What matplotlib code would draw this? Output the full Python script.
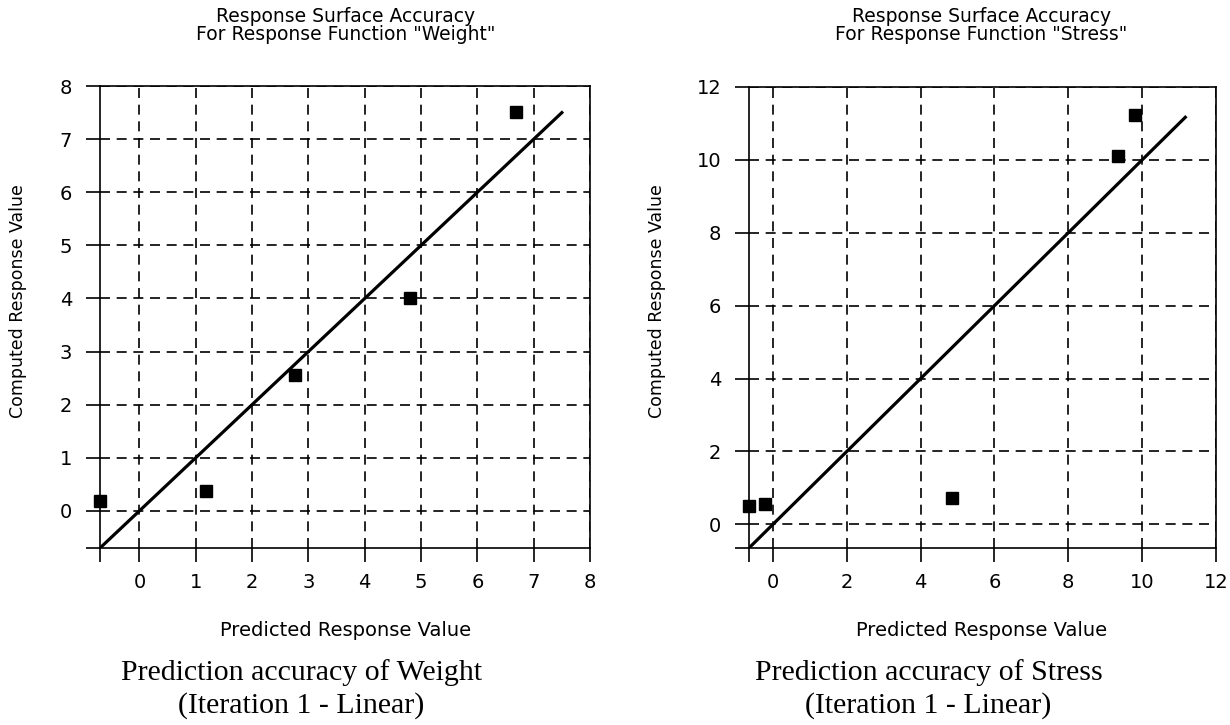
import matplotlib
matplotlib.use("Agg")
import matplotlib.pyplot as plt

# Weight response (iteration 1, linear)
weight_pred = [-0.7, 1.18, 2.77, 4.8, 6.68]
weight_comp = [0.19, 0.38, 2.55, 4.01, 7.52]
weight_line = [-0.7, 7.52]
weight_ticks = [0, 1, 2, 3, 4, 5, 6, 7, 8]

# Stress response (iteration 1, linear)
stress_pred = [-0.65, -0.22, 4.85, 9.35, 9.8]
stress_comp = [0.5, 0.56, 0.73, 10.1, 11.22]
stress_line = [-0.65, 11.2]
stress_ticks = [0, 2, 4, 6, 8, 10, 12]

sans = "DejaVu Sans"
serif = "Liberation Serif"

fig = plt.figure(figsize=(12.3, 7.25), dpi=100)
ax1 = fig.add_axes([0.0813, 0.2441, 0.3984, 0.6372])
ax2 = fig.add_axes([0.6089, 0.2441, 0.3797, 0.6359])


def draw(ax, px, cy, line, ticks, lo):
    ax.plot(line, line, color="black", lw=2.3, solid_capstyle="butt", zorder=3)
    ax.plot(px, cy, "s", color="black", ms=8.5, clip_on=False, zorder=4)
    ax.set_xlim(lo, ticks[-1])
    ax.set_ylim(lo, ticks[-1])
    ax.set_xticks(ticks)
    ax.set_yticks(ticks)
    # unlabelled ticks at the lower limits
    ax.set_xticks([lo], minor=True)
    ax.set_yticks([lo], minor=True)
    ax.tick_params(which="both", direction="out", length=10, width=1.2,
                   labelsize=14)
    ax.tick_params(axis="x", which="both", pad=8)
    ax.tick_params(axis="y", which="both", pad=10)
    for lab in ax.get_xticklabels() + ax.get_yticklabels():
        lab.set_family(sans)
    ax.grid(True, color="black", lw=1.2, linestyle=(0, (6, 4)))
    for s in ax.spines.values():
        s.set_linewidth(1.2)
    for gl in ax.get_xgridlines() + ax.get_ygridlines():
        gl.set_zorder(1)


draw(ax1, weight_pred, weight_comp, weight_line, weight_ticks, -0.7)
draw(ax2, stress_pred, stress_comp, stress_line, stress_ticks, -0.65)

# titles
fig.text(0.281, 0.965, 'Response Surface Accuracy\nFor Response Function "Weight"',
         ha="center", va="center", fontsize=13.5, family=sans, linespacing=0.95)
fig.text(0.798, 0.965, 'Response Surface Accuracy\nFor Response Function "Stress"',
         ha="center", va="center", fontsize=13.5, family=sans, linespacing=0.95)

# axis labels
fig.text(0.281, 0.131, "Predicted Response Value", ha="center", va="center",
         fontsize=14, family=sans)
fig.text(0.798, 0.131, "Predicted Response Value", ha="center", va="center",
         fontsize=14, family=sans)
fig.text(0.015, 0.585, "Computed Response Value", ha="center", va="center",
         rotation=90, fontsize=12.5, family=sans)
fig.text(0.534, 0.585, "Computed Response Value", ha="center", va="center",
         rotation=90, fontsize=12.5, family=sans)

# captions
fig.text(0.245, 0.05, "Prediction accuracy of Weight\n(Iteration 1 - Linear)",
         ha="center", va="center", fontsize=21.5, family=serif, linespacing=1.3)
fig.text(0.755, 0.05, "Prediction accuracy of Stress\n(Iteration 1 - Linear)",
         ha="center", va="center", fontsize=21.5, family=serif, linespacing=1.3)

fig.savefig("out.png", dpi=100)
